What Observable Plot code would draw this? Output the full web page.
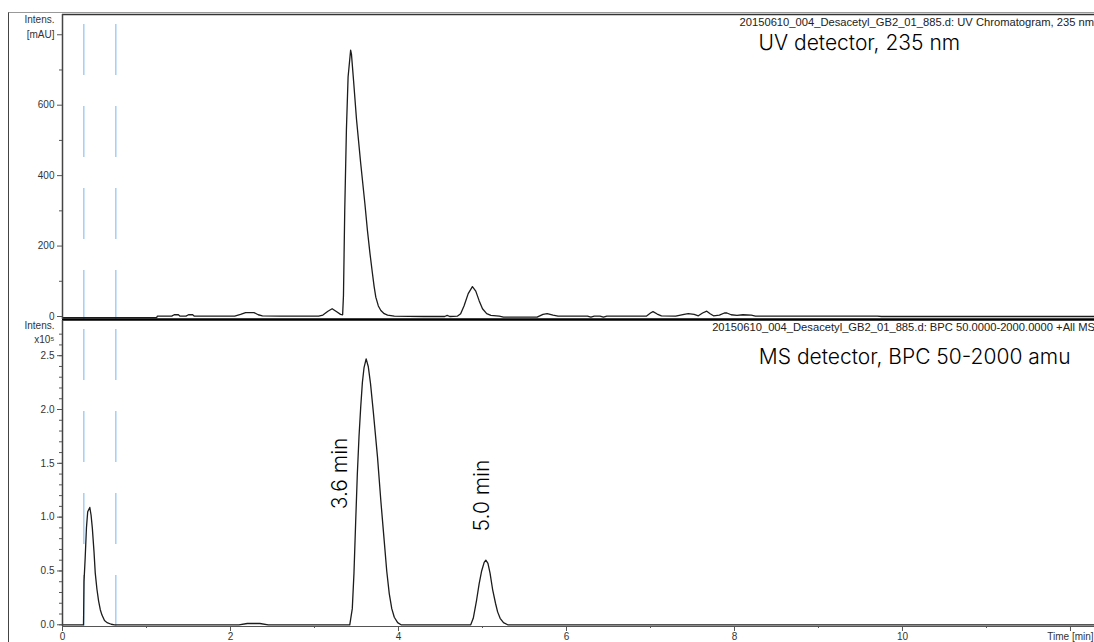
<!DOCTYPE html>
<html>
<head>
<meta charset="utf-8">
<script src="https://cdn.jsdelivr.net/npm/d3@7"></script>
<script src="https://cdn.jsdelivr.net/npm/@observablehq/plot@0.6"></script>
<style>
  html, body { margin: 0; padding: 0; background: #fff; }
  #wrap { position: relative; width: 1094px; height: 642px; overflow: hidden; background: #fff; }
  #wrap svg { position: absolute; left: 0; }
  #frame { position: absolute; left: 8px; top: 12px; right: -2px; bottom: -2px;
           border-left: 1.5px solid #444; border-top: 1px solid #999; pointer-events: none; }
</style>
</head>
<body>
<div id="wrap"><div id="frame"></div></div>
<script>
// ---- data ----
const uvTime = [0.0,0.5,1.0,1.12,1.13,1.3,1.33,1.38,1.4,1.47,1.5,1.55,1.57,2.05,2.12,2.18,2.28,2.33,2.38,2.6,3.05,3.1,3.16,3.21,3.26,3.31,3.335,3.345,3.36,3.38,3.40,3.43,3.44,3.465,3.50,3.55,3.60,3.63,3.66,3.69,3.71,3.73,3.76,3.79,3.83,3.87,3.95,4.3,4.55,4.58,4.61,4.70,4.74,4.78,4.83,4.88,4.92,4.96,5.00,5.05,5.1,5.2,5.25,5.65,5.72,5.77,5.84,5.9,6.25,6.29,6.33,6.4,6.44,6.48,6.95,7.0,7.03,7.08,7.13,7.3,7.4,7.45,7.52,7.57,7.62,7.67,7.71,7.75,7.82,7.88,7.91,7.96,8.03,8.1,8.2,8.25,9.7,9.75,12.3];
const uvIntensity = [-3,-3,-3,-3,1,1,5,5,1,1,5,5,1,1,6,11,11,5,2,1,1,4,15,22,14,6,5,60,300,530,680,756,745,670,560,435,320,245,180,122,85,55,30,17,8,4,1,0,0,3,0,1,8,30,65,85,72,45,22,8,3,1,-2,-2,6,8,4,1,1,-2,1,1,-2,1,1,10,14,7,2,1,6,8,6,2,10,15,8,2,4,10,10,5,3,5,4,1,1,0,0];

const msTime = [0.0,0.25,0.252,0.256,0.27,0.285,0.30,0.325,0.34,0.355,0.375,0.39,0.41,0.43,0.45,0.47,0.50,0.53,0.58,0.62,2.1,2.2,2.35,2.45,3.42,3.45,3.47,3.49,3.51,3.53,3.55,3.57,3.59,3.615,3.64,3.667,3.70,3.75,3.79,3.83,3.86,3.89,3.92,3.95,3.99,4.03,4.86,4.89,4.93,4.96,4.99,5.02,5.04,5.065,5.09,5.12,5.155,5.18,5.21,5.25,5.3,12.3];
const msIntensity = [0,0,0.12,0.40,0.62,0.90,1.05,1.09,1.02,0.90,0.68,0.48,0.33,0.22,0.14,0.09,0.04,0.02,0.005,0,0,0.012,0.012,0,0,0.15,0.48,0.95,1.40,1.75,2.02,2.25,2.39,2.47,2.40,2.24,1.98,1.56,1.15,0.78,0.50,0.29,0.15,0.07,0.02,0,0,0.06,0.23,0.38,0.50,0.58,0.60,0.57,0.48,0.33,0.20,0.12,0.06,0.02,0,0];

const divertTimes = [0.254, 0.635];
const uvTicks = [0, 200, 400, 600, 800];
const uvMinorTicks = [100, 300, 500, 700];
const msTicks = [0, 0.5, 1.0, 1.5, 2.0, 2.5];
const timeTicks = [0, 2, 4, 6, 8, 10, 12];
const timeMinorTicks = [1, 3, 5, 7, 9, 11];
const uvFile = "20150610_004_Desacetyl_GB2_01_885.d: UV Chromatogram, 235 nm";
const msFile = "20150610_004_Desacetyl_GB2_01_885.d: BPC 50.0000-2000.0000 +All MS";
const uvLabel = "UV detector, 235 nm";
const msLabel = "MS detector, BPC 50-2000 amu";
const peakLabels = ["3.6 min", "5.0 min"];
const peakLabelTimes = [3.31, 4.996];
const peakLabelY = [1.406, 1.201];

const uvData = uvTime.map((t, i) => ({t, v: uvIntensity[i]}));
const msData = msTime.map((t, i) => ({t, v: msIntensity[i]}));
const xDomain = [0, 12.286];
const axisFont = "'Liberation Sans', Arial, sans-serif";
const annFont = "Inter, 'Open Sans', sans-serif";
const baseStyle = {fontFamily: axisFont, fontSize: "10px", color: "#333", background: "transparent", overflow: "visible"};
const traceColor = "#1c1c1c";
const blue = "#8cc3f0";
const annStyle = {fill: "#000", fontFamily: annFont, fontSize: 21, fontWeight: 300};

const uvPlot = Plot.plot({
  width: 1094, height: 320,
  marginLeft: 62, marginRight: 0, marginTop: 14, marginBottom: 1,
  x: {domain: xDomain, axis: null},
  y: {domain: [-8.5, 857.5], axis: null},
  style: baseStyle,
  marks: [
    Plot.ruleX(divertTimes, {stroke: blue, strokeWidth: 1.2, strokeDasharray: "51,31", strokeDashoffset: 72}),
    Plot.line(uvData, {x: "t", y: "v", stroke: traceColor, strokeWidth: 1.3}),
    Plot.ruleY([-8.5], {stroke: "#000", strokeWidth: 2.6}),
    Plot.ruleY([857.5], {stroke: "#333", strokeWidth: 1.6}),
    Plot.ruleX([0], {stroke: "#444", strokeWidth: 1.5}),
    Plot.axisY({ticks: uvTicks, tickSize: 5, tickPadding: 3, stroke: "#555", label: null,
      tickFormat: d => d === 800 ? "[mAU]" : String(d)}),
    Plot.axisY({ticks: uvMinorTicks, tickSize: 3, tickFormat: () => "", stroke: "#555", label: null}),
    Plot.text(["Intens."], {x: 0, y: 842, dx: -8, textAnchor: "end", fill: "#333"}),
    Plot.text([uvFile], {x: 8.06, y: 835, textAnchor: "start", fill: "#222", fontSize: 11.2}),
    Plot.text([uvLabel], {x: 8.286, y: 775, textAnchor: "start", ...annStyle})
  ]
});
uvPlot.style.top = "0px";

const msPlot = Plot.plot({
  width: 1094, height: 322,
  marginLeft: 62, marginRight: 0, marginTop: 0, marginBottom: 16,
  x: {domain: xDomain, axis: null},
  y: {domain: [-0.016, 2.827], axis: null},
  style: baseStyle,
  marks: [
    Plot.ruleX(divertTimes, {stroke: blue, strokeWidth: 1.2, strokeDasharray: "51,31", strokeDashoffset: 73}),
    Plot.ruleY([-0.016], {stroke: "#555", strokeWidth: 1.2}),
    Plot.line(msData, {x: "t", y: "v", stroke: traceColor, strokeWidth: 1.3}),
    Plot.ruleX([0], {stroke: "#444", strokeWidth: 1.5}),
    Plot.axisY({ticks: msTicks, tickSize: 5, tickPadding: 3, stroke: "#555", label: null, tickFormat: d3.format(".1f")}),
    Plot.axisY({ticks: d3.range(0, 28).map(i => i / 10), tickSize: 3, tickFormat: () => "", stroke: "#555", label: null}),
    Plot.axisX({ticks: timeTicks, tickSize: 5, tickPadding: 1, stroke: "#555", label: null,
      tickFormat: d => d === 12 ? "Time [min]" : String(d)}),
    Plot.axisX({ticks: timeMinorTicks, tickSize: 2, tickFormat: () => "", stroke: "#555", label: null}),
    Plot.text(["Intens."], {x: 0, y: 2.775, dx: -8, textAnchor: "end", fill: "#333"}),
    Plot.text(["x10⁵"], {x: 0, y: 2.645, dx: -8, textAnchor: "end", fill: "#333"}),
    Plot.text([msFile], {x: 7.734, y: 2.762, textAnchor: "start", fill: "#222", fontSize: 11.2}),
    Plot.text([msLabel], {x: 8.29, y: 2.49, textAnchor: "start", ...annStyle}),
    Plot.text(peakLabels, {x: (d, i) => peakLabelTimes[i], y: (d, i) => peakLabelY[i], text: d => d,
      rotate: -90, ...annStyle})
  ]
});
msPlot.style.top = "320px";

const wrap = document.getElementById("wrap");
wrap.insertBefore(msPlot, wrap.firstChild);
wrap.insertBefore(uvPlot, wrap.firstChild);
</script>
</body>
</html>
